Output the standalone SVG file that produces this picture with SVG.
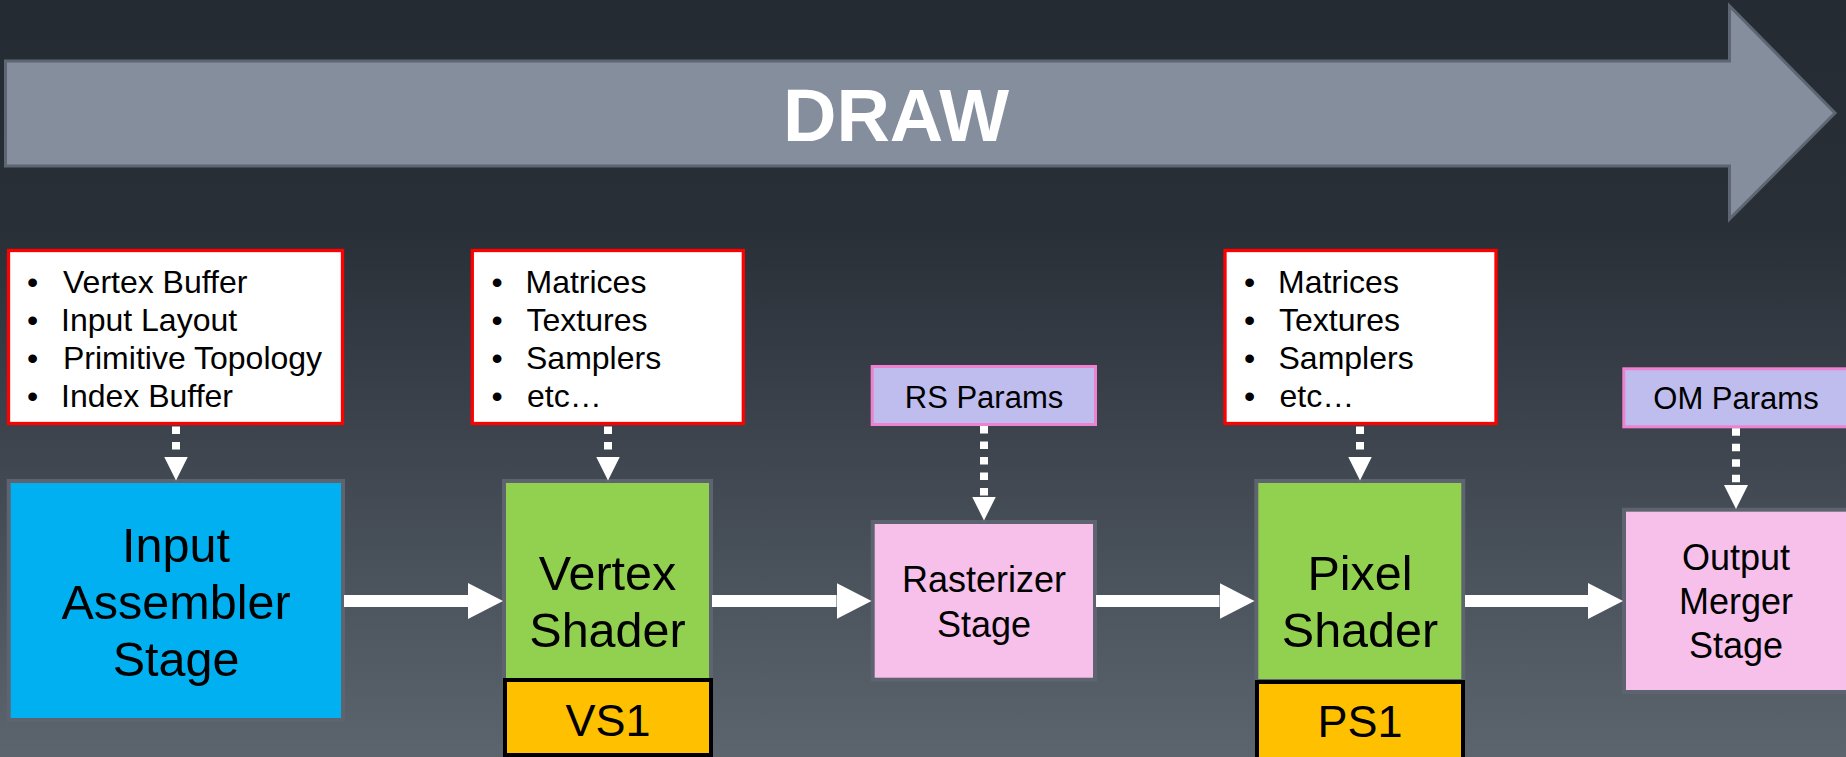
<svg xmlns="http://www.w3.org/2000/svg" width="1846" height="757" viewBox="0 0 1846 757">
  <defs>
    <linearGradient id="bg" x1="0" y1="0" x2="0" y2="1">
      <stop offset="0" stop-color="#252b33"/>
      <stop offset="0.3" stop-color="#292f37"/>
      <stop offset="0.55" stop-color="#3b424b"/>
      <stop offset="0.8" stop-color="#4d555f"/>
      <stop offset="1" stop-color="#5c646e"/>
    </linearGradient>
    <marker id="headBig" markerUnits="userSpaceOnUse" markerWidth="35" markerHeight="36" viewBox="0 0 35 36" refX="0" refY="18" orient="auto">
      <path d="M0,0 L35,18 L0,36 Z" fill="#ffffff"/>
    </marker>
    <marker id="headSmall" markerUnits="userSpaceOnUse" markerWidth="24" markerHeight="24" viewBox="0 0 24 24" refX="0" refY="12" orient="auto">
      <path d="M0,0 L24,12 L0,24 Z" fill="#ffffff"/>
    </marker>
  </defs>
  <style>
    text { font-family: "Liberation Sans", Arial, sans-serif; fill: #000000; }
    .title { font-size: 74px; font-weight: bold; fill: #ffffff; text-anchor: middle; }
    .list { font-size: 32px; }
    .big { font-size: 48.5px; text-anchor: middle; }
    .mid { font-size: 36px; text-anchor: middle; }
    .param { font-size: 31px; text-anchor: middle; }
    .res { fill: #ffffff; stroke: #ff0000; stroke-width: 3.3; }
    .stage { stroke: #5d6470; stroke-width: 4; }
    .ia { fill: #00b0f0; }
    .shader { fill: #92d050; }
    .fixed { fill: #f6c0ea; }
    .prm { fill: #bfbdee; stroke: #ee82d0; stroke-width: 3; }
    .tag { fill: #ffc000; stroke: #000000; stroke-width: 4; }
    .flow { stroke: #ffffff; stroke-width: 12; fill: none; marker-end: url(#headBig); }
    .feed { stroke: #ffffff; stroke-width: 8; fill: none; stroke-dasharray: 7.5 8; marker-end: url(#headSmall); }
  </style>

  <rect x="0" y="0" width="1846" height="757" fill="url(#bg)"/>

  <!-- DRAW banner arrow -->
  <g id="draw-banner">
    <polygon points="5.5,61 1729.5,61 1729.5,6 1835,113 1729.5,219 1729.5,166 5.5,166" fill="#858e9d" stroke="#5f6673" stroke-width="3"/>
    <text class="title" x="896" y="141">DRAW</text>
  </g>

  <!-- resources bound to the input assembler -->
  <g id="ia-resources">
    <rect class="res" x="8.5" y="250.5" width="334" height="173"/>
    <g class="list">
      <text x="27" y="292.7">•</text><text x="63" y="292.7">Vertex Buffer</text>
      <text x="27" y="330.7">•</text><text x="61" y="330.7">Input Layout</text>
      <text x="27" y="369">•</text><text x="63" y="369">Primitive Topology</text>
      <text x="27" y="407">•</text><text x="61" y="407">Index Buffer</text>
    </g>
  </g>

  <!-- resources bound to the vertex shader -->
  <g id="vs-resources">
    <rect class="res" x="472.3" y="250.5" width="271" height="173"/>
    <g class="list">
      <text x="491.5" y="292.7">•</text><text x="525.5" y="292.7">Matrices</text>
      <text x="491.5" y="330.7">•</text><text x="526.5" y="330.7">Textures</text>
      <text x="491.5" y="369">•</text><text x="526" y="369">Samplers</text>
      <text x="491.5" y="407">•</text><text x="527" y="407">etc…</text>
    </g>
  </g>

  <!-- resources bound to the pixel shader -->
  <g id="ps-resources">
    <rect class="res" x="1225" y="250.5" width="271" height="173"/>
    <g class="list">
      <text x="1244" y="292.7">•</text><text x="1278" y="292.7">Matrices</text>
      <text x="1244" y="330.7">•</text><text x="1279" y="330.7">Textures</text>
      <text x="1244" y="369">•</text><text x="1278.5" y="369">Samplers</text>
      <text x="1244" y="407">•</text><text x="1279.5" y="407">etc…</text>
    </g>
  </g>

  <g id="rs-params">
    <rect class="prm" x="872.2" y="366.5" width="223.3" height="58"/>
    <text class="param" x="984" y="408">RS Params</text>
  </g>

  <g id="om-params">
    <rect class="prm" x="1623.8" y="368.8" width="226" height="58"/>
    <text class="param" x="1736" y="409.3">OM Params</text>
  </g>

  <!-- pipeline stages -->
  <g id="input-assembler">
    <rect class="stage ia" x="8.7" y="481" width="334.3" height="239"/>
    <text class="big" x="176" y="561.7">Input</text>
    <text class="big" x="176" y="619">Assembler</text>
    <text class="big" x="176" y="676">Stage</text>
  </g>

  <g id="vertex-shader">
    <rect class="stage shader" x="504" y="481" width="207" height="200"/>
    <text class="big" x="607.5" y="590">Vertex</text>
    <text class="big" x="607.5" y="646.7">Shader</text>
  </g>

  <g id="vs1">
    <rect class="tag" x="505" y="680" width="206" height="75"/>
    <text class="big" x="608" y="736" style="font-size:45px">VS1</text>
  </g>

  <g id="rasterizer">
    <rect class="stage fixed" x="872.7" y="522" width="222.3" height="157.7"/>
    <text class="mid" x="984" y="591.7">Rasterizer</text>
    <text class="mid" x="984" y="636.7">Stage</text>
  </g>

  <g id="pixel-shader">
    <rect class="stage shader" x="1256.3" y="481" width="207" height="200"/>
    <text class="big" x="1360" y="590">Pixel</text>
    <text class="big" x="1360" y="646.7">Shader</text>
  </g>

  <g id="ps1">
    <rect class="tag" x="1257" y="682" width="206" height="80"/>
    <text class="big" x="1360" y="736.7" style="font-size:45px">PS1</text>
  </g>

  <g id="output-merger">
    <rect class="stage fixed" x="1624" y="509.7" width="226" height="182.3"/>
    <text class="mid" x="1736" y="570">Output</text>
    <text class="mid" x="1736" y="614">Merger</text>
    <text class="mid" x="1736" y="658">Stage</text>
  </g>

  <!-- connectors -->
  <g id="connectors">
    <line class="flow" x1="344" y1="601" x2="468" y2="601"/>
    <line class="flow" x1="712" y1="601" x2="836.5" y2="601"/>
    <line class="flow" x1="1096" y1="601" x2="1219.5" y2="601"/>
    <line class="flow" x1="1465" y1="601" x2="1588" y2="601"/>

    <line class="feed" x1="176" y1="426.5" x2="176" y2="456.5"/>
    <line class="feed" x1="608" y1="426.5" x2="608" y2="456.5"/>
    <line class="feed" x1="984" y1="426" x2="984" y2="496.5"/>
    <line class="feed" x1="1360" y1="426.5" x2="1360" y2="456.5"/>
    <line class="feed" x1="1736" y1="428.3" x2="1736" y2="485"/>
  </g>
</svg>
